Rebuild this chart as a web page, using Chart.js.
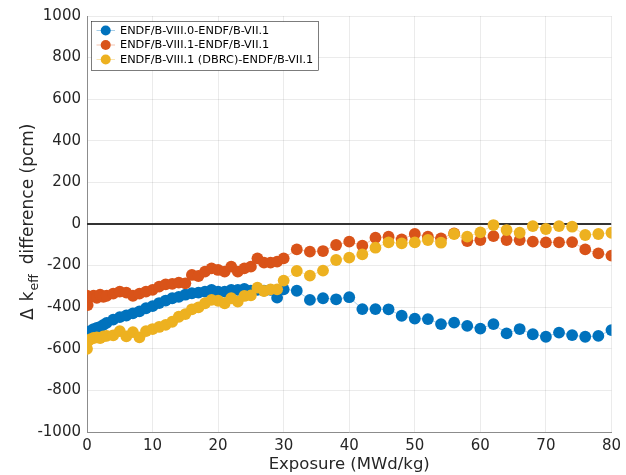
<!DOCTYPE html>
<html><head><meta charset="utf-8">
<script src="https://cdn.jsdelivr.net/npm/chart.js@4/dist/chart.umd.min.js"></script>
<style>html,body{margin:0;padding:0;background:#fff;} canvas{display:block;}</style>
</head><body>
<canvas id="c" width="626" height="475"></canvas>
<script>
// ---- data ----
const exposure = [0,0.1,0.5,1,1.5,2,2.5,3,4,5,6,7,8,9,10,11,12,13,14,15,16,17,18,19,20,21,22,23,24,25,26,27,28,29,30,
  32,34,36,38,40,42,44,46,48,50,52,54,56,58,60,62,64,66,68,70,72,74,76,78,80];
const seriesNames = ['ENDF/B-VIII.0-ENDF/B-VII.1','ENDF/B-VIII.1-ENDF/B-VII.1','ENDF/B-VIII.1 (DBRC)-ENDF/B-VII.1'];
const diffVIII0 = [-520,-530,-515,-505,-500,-495,-485,-475,-460,-448,-440,-430,-420,-405,-395,-380,-368,-357,-350,-340,-333,-330,-325,-317,-325,-325,-317,-317,-312,-320,-317,-320,-317,-354,-314,
  -321,-365,-357,-362,-352,-409,-409,-410,-441,-455,-457,-481,-474,-490,-503,-481,-526,-505,-530,-542,-522,-534,-542,-538,-510];
const diffVIII1 = [-345,-390,-350,-345,-355,-340,-350,-345,-335,-325,-330,-345,-335,-325,-317,-301,-290,-288,-282,-285,-245,-250,-229,-213,-221,-229,-205,-229,-213,-205,-165,-186,-186,-181,-165,
  -122,-133,-130,-101,-85,-104,-66,-61,-74,-48,-61,-69,-45,-82,-77,-58,-77,-77,-85,-88,-88,-87,-122,-141,-152];
const diffVIII1DBRC = [-600,-565,-555,-548,-545,-548,-540,-538,-535,-515,-540,-520,-545,-515,-505,-495,-485,-470,-446,-433,-410,-401,-381,-365,-369,-381,-357,-373,-346,-343,-306,-322,-314,-314,-272,
  -226,-248,-224,-173,-162,-146,-114,-88,-93,-88,-77,-90,-48,-61,-40,-5,-29,-42,-10,-24,-10,-13,-53,-48,-42];
const xTickValues = [0,10,20,30,40,50,60,70,80];
const yTickValues = [-1000,-800,-600,-400,-200,0,200,400,600,800,1000];
const zeroLineX = [0,80];
const zeroLineY = [0,0];
const xTitle = 'Exposure (MWd/kg)';
const yTitleParts = ['\u0394','k','eff','difference (pcm)'];

const colors = ['#0072BD','#D95319','#EDB120'];
const lineColors = ['rgba(0,114,189,0.35)','rgba(217,83,25,0.35)','rgba(237,177,32,0.35)'];
const FONT = "'DejaVu Sans', sans-serif";

function pts(xs, ys){ return xs.map((x,i)=>({x:x, y:ys[i]})); }
const seriesValues = [diffVIII0, diffVIII1, diffVIII1DBRC];

const datasets = seriesValues.map((vals,i)=>({
  label: seriesNames[i],
  data: pts(exposure, vals),
  showLine: true,
  borderColor: lineColors[i],
  borderWidth: 1,
  pointRadius: 5.9,
  pointBackgroundColor: colors[i],
  pointBorderColor: colors[i],
  pointBorderWidth: 0,
  order: 3 - i
}));
datasets.push({
  label: 'zero',
  data: pts(zeroLineX, zeroLineY),
  showLine: true,
  borderColor: '#333333',
  borderWidth: 2,
  pointRadius: 0,
  order: 10
});

const legendPlugin = {
  id: 'boxLegend',
  afterDraw(chart){
    const ctx = chart.ctx;
    const x0 = 91.5, y0 = 21.5, w = 227, h = 49;
    ctx.save();
    ctx.fillStyle = '#fff';
    ctx.fillRect(x0, y0, w, h);
    ctx.strokeStyle = '#262626';
    ctx.lineWidth = 0.6;
    ctx.strokeRect(x0, y0, w, h);
    ctx.font = '11.3px ' + FONT;
    ctx.textBaseline = 'middle';
    ctx.textAlign = 'left';
    const rows = [30.5, 45, 59.5];
    for (let i=0;i<3;i++){
      const y = rows[i];
      ctx.strokeStyle = lineColors[i];
      ctx.lineWidth = 1;
      ctx.beginPath(); ctx.moveTo(96.5, y); ctx.lineTo(115, y); ctx.stroke();
      ctx.fillStyle = colors[i];
      ctx.beginPath(); ctx.arc(105.7, y, 5, 0, Math.PI*2); ctx.fill();
      ctx.fillStyle = '#000';
      ctx.fillText(seriesNames[i], 120, y + 0.5);
    }
    ctx.restore();
  }
};

const yTitlePlugin = {
  id: 'yTitle',
  afterDraw(chart){
    const ctx = chart.ctx;
    ctx.save();
    ctx.fillStyle = '#262626';
    ctx.textBaseline = 'alphabetic';
    ctx.textAlign = 'left';
    const big = '17px ' + FONT, small = '12.5px ' + FONT;
    ctx.translate(33, 320);
    ctx.rotate(-Math.PI/2);
    ctx.font = big; ctx.fillText(yTitleParts[0], 0, 0);
    const wD = ctx.measureText(yTitleParts[0]).width;
    let sx = wD + 7;
    ctx.fillText(yTitleParts[1], sx, 0); sx += ctx.measureText(yTitleParts[1]).width + 1;
    ctx.font = small; ctx.fillText(yTitleParts[2], sx, 5); sx += ctx.measureText(yTitleParts[2]).width + 10;
    ctx.font = big; ctx.fillText(yTitleParts[3], sx, 0);
    ctx.restore();
  }
};

new Chart(document.getElementById('c'), {
  type: 'scatter',
  data: { datasets: datasets },
  plugins: [legendPlugin, yTitlePlugin],
  options: {
    responsive: false,
    animation: false,
    devicePixelRatio: 1,
    layout: { padding: { left: 0, right: 11, top: 16, bottom: 0 } },
    plugins: { legend: { display: false }, tooltip: { enabled: false } },
    scales: {
      x: {
        type: 'linear', min: 0, max: 80,
        afterBuildTicks(scale){ scale.ticks = xTickValues.map(v=>({value:v})); },
        afterFit(scale){ scale.height = 43; },
        ticks: { font: { family: FONT, size: 15 }, color: '#262626', padding: 5, maxRotation: 0,
                 callback: (v)=>String(v) },
        grid: { color: 'rgba(0,0,0,0.08)', drawTicks: false },
        border: { color: '#8c8c8c', width: 1 },
        title: { display: true, text: xTitle, font: { family: FONT, size: 16.5 }, color: '#262626', padding: { top: 0, bottom: 0 } }
      },
      y: {
        type: 'linear', min: -1000, max: 1000,
        afterBuildTicks(scale){ scale.ticks = yTickValues.map(v=>({value:v})); },
        afterFit(scale){ scale.width = 87; },
        ticks: { font: { family: FONT, size: 15 }, color: '#262626', padding: 6,
                 callback: (v)=>String(v) },
        grid: { color: 'rgba(0,0,0,0.08)', drawTicks: false },
        border: { color: '#8c8c8c', width: 1 }
      }
    }
  }
});
</script>
</body></html>
